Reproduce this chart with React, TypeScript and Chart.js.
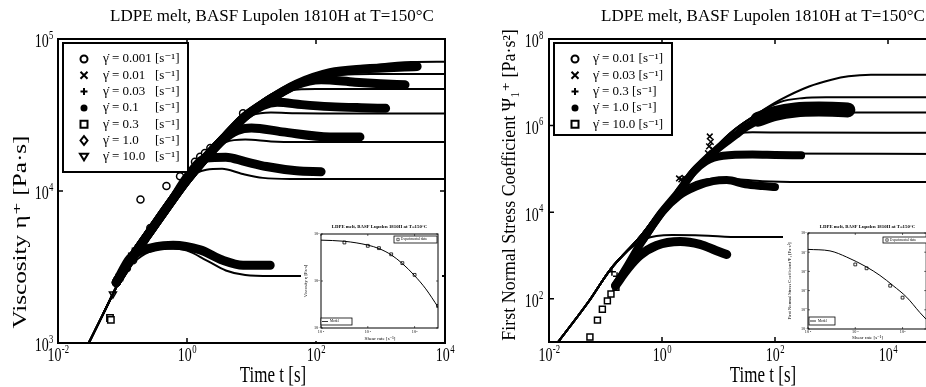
import React, { useEffect, useRef } from "react";
import { Chart, registerables } from "chart.js";

Chart.register(...registerables);

const SERIF = '"Liberation Serif", "Times New Roman", "DejaVu Serif", serif';
const GDOT = "\u03B3\u0307";

type P = [number, number];

// ================= Left panel: viscosity growth eta+ =================
const etaTitle = "LDPE melt, BASF Lupolen 1810H at T=150°C";
const etaXTitle = "Time t [s]";
const etaYTitle = "Viscosity η⁺ [Pa·s]";
const etaXTicks = [0.01, 1, 100, 10000];
const etaXTickExp = ["-2", "0", "2", "4"];
const etaYTicks = [1000, 10000, 100000];
const etaYTickExp = ["3", "4", "5"];
const etaLegendRates = ["0.001", "0.01", "0.03", "0.1", "0.3", "1.0", "10.0"];
const etaLegendMarkers = ["circle", "x", "plus", "dot", "square", "diamond", "triDown"];

// model curves (one per shear rate)
const etaModel0001: P[] = [[0.03, 1000], [0.05, 1550], [0.1, 2800], [0.2, 4700], [0.5, 8500], [1, 12500], [2, 17500], [5, 27000], [10, 35000], [20, 43000], [50, 50500], [100, 56000], [300, 63000], [1000, 68000], [3000, 70500], [10000, 70800]];
const etaModel001: P[] = [[0.03, 1000], [0.05, 1550], [0.1, 2800], [0.2, 4700], [0.5, 8500], [1, 12500], [2, 17500], [5, 27000], [10, 35000], [20, 43000], [50, 50500], [100, 55000], [250, 58000], [700, 58900], [10000, 58900]];
const etaModel003: P[] = [[0.03, 1000], [0.05, 1550], [0.1, 2800], [0.2, 4700], [0.5, 8500], [1, 12500], [2, 17500], [5, 27000], [10, 35000], [20, 42000], [40, 46000], [100, 46800], [10000, 46800]];
const etaModel01: P[] = [[0.03, 1000], [0.05, 1550], [0.1, 2800], [0.2, 4700], [0.5, 8500], [1, 12500], [2, 17500], [5, 27000], [10, 31500], [20, 32800], [50, 32500], [120, 32400], [10000, 32400]];
const etaModel03: P[] = [[0.03, 1000], [0.05, 1550], [0.1, 2800], [0.2, 4700], [0.5, 8500], [1, 12500], [2, 17500], [4, 21000], [8, 21800], [20, 21200], [50, 21000], [10000, 21000]];
const etaModel1: P[] = [[0.03, 1000], [0.05, 1550], [0.1, 2800], [0.2, 4700], [0.5, 8500], [1, 12000], [2, 13800], [3.5, 14000], [7, 13000], [15, 12200], [40, 12000], [10000, 12000]];
const etaModel10: P[] = [[0.03, 1000], [0.05, 1550], [0.1, 2800], [0.15, 3400], [0.25, 3950], [0.5, 4200], [1, 4050], [2, 3500], [4, 3000], [8, 2800], [20, 2760], [10000, 2760]];

// dense measured data (drawn as thick bands)
const etaBand001: P[] = [[0.08, 2500], [0.15, 3800], [0.3, 5800], [0.6, 8800], [1, 11800], [2, 16800], [4, 23000], [8, 31000], [15, 37400], [50, 50500], [165, 60000], [540, 63500], [3700, 66000]];
const etaBand003: P[] = [[0.08, 2500], [0.15, 3800], [0.3, 5800], [0.6, 8800], [1, 11800], [2, 16800], [4, 23000], [8, 31000], [15, 37400], [50, 50000], [120, 54000], [400, 52000], [1000, 50800], [2400, 50000]];
const etaBand01: P[] = [[0.08, 2500], [0.15, 3800], [0.3, 5800], [0.6, 8800], [1, 11800], [2, 16800], [4, 23000], [8, 31000], [15, 36500], [25, 38300], [60, 37000], [165, 35900], [500, 35300], [1200, 35000]];
const etaBand03: P[] = [[0.08, 2500], [0.15, 3800], [0.3, 5800], [0.6, 8800], [1, 11800], [2, 16800], [3.5, 21500], [6, 25000], [10, 26000], [30, 24500], [165, 22700], [480, 22700]];
const etaBand1: P[] = [[0.08, 2500], [0.15, 3800], [0.3, 5800], [0.6, 8800], [1, 12300], [2, 16500], [4, 16700], [8, 15600], [17, 14500], [50, 13600], [120, 13400]];
const etaBand10: P[] = [[0.08, 2500], [0.13, 3600], [0.34, 4300], [0.61, 4400], [1.6, 4100], [3.6, 3500], [7.4, 3250], [19.5, 3250]];

// sparse markers
const etaCircles: P[] = [[0.117, 3100], [0.146, 3500], [0.19, 4100], [0.22, 4750], [0.27, 5700], [0.19, 8800], [0.48, 10800], [0.78, 12500], [1.33, 15600], [1.6, 16800], [1.9, 17800], [2.3, 19200], [7.4, 32500]];
const etaSquares: P[] = [[0.064, 1460], [0.066, 1420], [0.09, 2700]];
const etaTriangles: P[] = [[0.071, 2100], [0.085, 2600]];
const etaDiamonds: P[] = [[0.095, 2800], [0.105, 3000]];
const etaPlus: P[] = [[0.14, 3900], [0.16, 4200]];
const etaCross: P[] = [[0.12, 3300]];

// inset (steady shear viscosity)
const etaInsetXTicks = [0.0001, 0.01, 1];
const etaInsetXExp = ["-4", "-2", "0"];
const etaInsetYTicks = [1000, 10000, 100000];
const etaInsetYExp = ["3", "4", "5"];
const etaInsetModel: P[] = [[0.0001, 74000], [0.001, 70000], [0.01, 58000], [0.03, 49000], [0.1, 36000], [0.3, 23500], [1, 13000], [3, 6800], [10, 2800]];
const etaInsetData: P[] = [[0.001, 66000], [0.01, 56000], [0.03, 50000], [0.1, 37000], [0.3, 24000], [1, 13500], [10, 2950]];

// ================= Right panel: first normal stress coefficient =================
const psiTitle = "LDPE melt, BASF Lupolen 1810H at T=150°C";
const psiXTitle = "Time t [s]";
const psiYTitle = "First Normal Stress Coefficient Ψ₁⁺ [Pa·s²]";
const psiXTicks = [0.01, 1, 100, 10000];
const psiXTickExp = ["-2", "0", "2", "4"];
const psiYTicks = [100, 10000, 1000000, 100000000];
const psiYTickExp = ["2", "4", "6", "8"];
const psiLegendRates = ["0.01", "0.03", "0.3", "1.0", "10.0"];
const psiLegendMarkers = ["circle", "x", "plus", "dot", "square"];

const psiModelA: P[] = [[0.0145, 10], [0.05, 85], [0.12, 460], [0.4, 2600], [1, 12000], [3, 58000], [7, 220000], [16, 660000], [50, 1900000], [123, 3900000], [400, 8000000], [1000, 11500000], [2000, 13800000], [5000, 15000000], [100000, 15000000]];
const psiModelB: P[] = [[0.0145, 10], [0.05, 85], [0.12, 460], [0.4, 2600], [1, 12000], [3, 58000], [7, 220000], [16, 660000], [50, 1900000], [123, 3500000], [300, 4300000], [800, 4500000], [100000, 4500000]];
const psiModelC: P[] = [[0.0145, 10], [0.05, 85], [0.12, 460], [0.4, 2600], [1, 12000], [3, 58000], [7, 220000], [16, 660000], [40, 1500000], [100, 1950000], [300, 2000000], [100000, 2000000]];
const psiModelD: P[] = [[0.0145, 10], [0.05, 85], [0.12, 460], [0.4, 2600], [1, 12000], [3, 58000], [7, 220000], [16, 600000], [40, 700000], [150, 690000], [100000, 680000]];
const psiModelE: P[] = [[0.0145, 10], [0.05, 85], [0.12, 460], [0.4, 2600], [1, 12000], [3, 58000], [6, 160000], [12, 215000], [30, 225000], [100000, 220000]];
const psiModelF: P[] = [[0.0145, 10], [0.05, 85], [0.12, 460], [0.4, 2600], [1, 12000], [2, 30000], [4, 50000], [10, 60000], [20, 58000], [60, 52000], [300, 50000], [100000, 50000]];
const psiModelG: P[] = [[0.0145, 10], [0.05, 85], [0.12, 460], [0.25, 1300], [0.5, 2400], [1.5, 2950], [5, 2900], [24, 2650], [100000, 2700]];

const psiBandMain: P[] = [[0.15, 200], [0.25, 600], [0.45, 2200], [1, 10000], [2, 30000], [3.6, 85000], [9, 270000], [20, 600000], [31, 930000], [62, 1500000], [120, 1900000]];
const psiBandBlob: P[] = [[50, 1400000], [100, 1900000], [230, 2300000], [600, 2400000], [1950, 2300000]];
const psiBand03: P[] = [[2, 30000], [3.6, 85000], [6, 150000], [12, 200000], [40, 215000], [100, 210000], [290, 205000]];
const psiBand1: P[] = [[0.45, 2200], [1, 10000], [2, 24000], [4, 39000], [8, 52000], [14, 55000], [30, 44000], [60, 40000], [100, 38000]];
const psiBand10: P[] = [[0.15, 200], [0.25, 500], [0.41, 1000], [0.8, 1700], [2.1, 2100], [4.7, 1800], [9, 1300], [14, 1050]];

const psiSquares: P[] = [[0.053, 13], [0.072, 32], [0.088, 57], [0.108, 89], [0.125, 129], [0.153, 183]];
const psiCross: P[] = [[2.0, 60000], [2.2, 57000], [2.5, 62000], [2.7, 58000], [6.5, 230000], [6.8, 330000], [7.0, 560000], [7.3, 420000], [8, 280000]];
const psiPlus: P[] = [[0.13, 420], [0.16, 330]];

// inset (steady first normal stress coefficient)
const psiInsetXTicks = [0.0001, 0.01, 1];
const psiInsetXExp = ["-4", "-2", "0"];
const psiInsetYTicks = [1000, 10000, 100000, 1000000, 10000000, 100000000];
const psiInsetYExp = ["3", "4", "5", "6", "7", "8"];
const psiInsetModel: P[] = [[0.0001, 14000000], [0.00085, 11700000], [0.0043, 5600000], [0.03, 1700000], [0.11, 620000], [0.4, 180000], [1.5, 45000], [5.4, 7200], [10, 3200]];
const psiInsetData: P[] = [[0.01, 2300000], [0.03, 1450000], [0.3, 180000], [1, 43000]];

const insetXTitle = "Shear rate [s⁻¹]";
const etaInsetYTitle = "Viscosity η [Pa·s]";
const psiInsetYTitle = "First Normal Stress Coefficient Ψ₁ [Pa·s²]";

// ================= helpers =================
const pts = (a: P[]) => a.map(([x, y]) => ({ x, y }));

function curve(data: P[], width: number) {
  return {
    data: pts(data),
    showLine: true,
    borderColor: "#000",
    backgroundColor: "#000",
    borderWidth: width,
    pointRadius: 0,
    pointHoverRadius: 0,
    cubicInterpolationMode: "monotone",
    borderCapStyle: "round",
    borderJoinStyle: "round",
    clip: 0,
  };
}

function markers(data: P[], style: string, radius: number, extra: any = {}) {
  return {
    data: pts(data),
    showLine: false,
    pointStyle: style,
    pointRadius: radius,
    pointHoverRadius: radius,
    pointBorderWidth: 1.5,
    pointBorderColor: "#000",
    pointBackgroundColor: "#fff",
    clip: 0,
    ...extra,
  };
}

function drawMarker(ctx: CanvasRenderingContext2D, kind: string, x: number, y: number, r: number) {
  ctx.beginPath();
  if (kind === "circle") {
    ctx.arc(x, y, r, 0, Math.PI * 2);
    ctx.stroke();
  } else if (kind === "dot") {
    ctx.arc(x, y, r, 0, Math.PI * 2);
    ctx.fill();
  } else if (kind === "x") {
    ctx.moveTo(x - r, y - r); ctx.lineTo(x + r, y + r);
    ctx.moveTo(x + r, y - r); ctx.lineTo(x - r, y + r);
    ctx.stroke();
  } else if (kind === "plus") {
    ctx.moveTo(x - r, y); ctx.lineTo(x + r, y);
    ctx.moveTo(x, y - r); ctx.lineTo(x, y + r);
    ctx.stroke();
  } else if (kind === "square") {
    ctx.rect(x - r, y - r, 2 * r, 2 * r);
    ctx.stroke();
  } else if (kind === "diamond") {
    ctx.moveTo(x, y - r * 1.25); ctx.lineTo(x + r, y); ctx.lineTo(x, y + r * 1.25); ctx.lineTo(x - r, y);
    ctx.closePath();
    ctx.stroke();
  } else if (kind === "triDown") {
    ctx.moveTo(x - r * 1.15, y - r * 0.85); ctx.lineTo(x + r * 1.15, y - r * 0.85); ctx.lineTo(x, y + r);
    ctx.closePath();
    ctx.stroke();
  } else if (kind === "line") {
    ctx.moveTo(x - r * 2, y); ctx.lineTo(x + r * 2, y);
    ctx.stroke();
  }
}

function drawPow(ctx: CanvasRenderingContext2D, base: string, exp: string, x: number, y: number, size: number, stretch: number, align: string) {
  ctx.save();
  ctx.translate(x, y);
  ctx.scale(1, stretch);
  ctx.textAlign = "left";
  ctx.textBaseline = "alphabetic";
  ctx.font = `${size}px ${SERIF}`;
  const bw = ctx.measureText(base).width;
  const es = size * 0.62;
  ctx.font = `${es}px ${SERIF}`;
  const ew = ctx.measureText(exp).width;
  const tw = bw + ew;
  const x0 = align === "center" ? -tw / 2 : align === "right" ? -tw : 0;
  const by = size * 0.34;
  ctx.font = `${size}px ${SERIF}`;
  ctx.fillText(base, x0, by);
  ctx.font = `${es}px ${SERIF}`;
  ctx.fillText(exp, x0 + bw + size * 0.03, by - size * 0.45);
  ctx.restore();
}

type LegendItem = { marker: string; text: string; unit?: string };
type Legend = {
  box: number[]; frame: number; markerX: number; markerR: number; markerW: number;
  textX: number; unitX?: number; y0: number; dy: number; size: number; items: LegendItem[];
};
type Decor = {
  title: { text: string; x: number; y: number; size: number; bold?: boolean };
  xTitle: { text: string; x: number; y: number; size: number; stretch: number };
  yTitle: { text: string; x: number; y: number; size: number; stretch: number };
  xTicks: number[]; xExp: string[]; yTicks: number[]; yExp: string[];
  tickSize: number; tickStretch: number; xLabelY: number; yLabelGap: number; yLabelDy: number;
  tickLen: number; tickW: number; frame: number; legends: Legend[];
};

function decorPlugin(d: Decor) {
  return {
    id: "decor",
    beforeDraw(chart: any) {
      const ctx = chart.ctx;
      ctx.save();
      ctx.fillStyle = "#fff";
      ctx.fillRect(0, 0, chart.width, chart.height);
      ctx.restore();
    },
    afterDraw(chart: any) {
      const ctx: CanvasRenderingContext2D = chart.ctx;
      const a = chart.chartArea;
      const xs = chart.scales.x;
      const ys = chart.scales.y;
      ctx.save();
      ctx.strokeStyle = "#000";
      ctx.fillStyle = "#000";
      // ticks on all four sides
      ctx.lineWidth = d.tickW;
      ctx.beginPath();
      d.xTicks.forEach((v) => {
        const px = xs.getPixelForValue(v);
        ctx.moveTo(px, a.bottom); ctx.lineTo(px, a.bottom - d.tickLen);
        ctx.moveTo(px, a.top); ctx.lineTo(px, a.top + d.tickLen);
      });
      d.yTicks.forEach((v) => {
        const py = ys.getPixelForValue(v);
        ctx.moveTo(a.left, py); ctx.lineTo(a.left + d.tickLen, py);
        ctx.moveTo(a.right, py); ctx.lineTo(a.right - d.tickLen, py);
      });
      ctx.stroke();
      // frame
      ctx.lineWidth = d.frame;
      ctx.strokeRect(a.left, a.top, a.right - a.left, a.bottom - a.top);
      // tick labels
      d.xTicks.forEach((v, i) => drawPow(ctx, "10", d.xExp[i], xs.getPixelForValue(v), d.xLabelY, d.tickSize, d.tickStretch, "center"));
      d.yTicks.forEach((v, i) => drawPow(ctx, "10", d.yExp[i], a.left - d.yLabelGap, ys.getPixelForValue(v) + d.yLabelDy, d.tickSize, d.tickStretch, "right"));
      // title
      const t = d.title;
      ctx.font = `${t.bold ? "bold " : ""}${t.size}px ${SERIF}`;
      ctx.textAlign = "center";
      ctx.textBaseline = "alphabetic";
      ctx.fillText(t.text, t.x, t.y);
      // x title
      const xt = d.xTitle;
      ctx.save();
      ctx.translate(xt.x, xt.y);
      ctx.scale(1, xt.stretch);
      ctx.font = `${xt.size}px ${SERIF}`;
      ctx.textAlign = "center";
      ctx.textBaseline = "alphabetic";
      ctx.fillText(xt.text, 0, 0);
      ctx.restore();
      // y title
      const yt = d.yTitle;
      ctx.save();
      ctx.translate(yt.x, yt.y);
      ctx.rotate(-Math.PI / 2);
      ctx.scale(yt.stretch, 1);
      ctx.font = `${yt.size}px ${SERIF}`;
      ctx.textAlign = "center";
      ctx.textBaseline = "middle";
      ctx.fillText(yt.text, 0, 0);
      ctx.restore();
      // legends
      d.legends.forEach((lg) => {
        const [x1, y1, x2, y2] = lg.box;
        ctx.fillStyle = "#fff";
        ctx.fillRect(x1, y1, x2 - x1, y2 - y1);
        ctx.lineWidth = lg.frame;
        ctx.strokeRect(x1, y1, x2 - x1, y2 - y1);
        ctx.fillStyle = "#000";
        lg.items.forEach((it, i) => {
          const yy = lg.y0 + i * lg.dy;
          ctx.lineWidth = lg.markerW;
          drawMarker(ctx, it.marker, lg.markerX, yy, lg.markerR);
          ctx.font = `${lg.size}px ${SERIF}`;
          ctx.textAlign = "left";
          ctx.textBaseline = "middle";
          ctx.fillText(it.text, lg.textX, yy);
          if (it.unit && lg.unitX !== undefined) ctx.fillText(it.unit, lg.unitX, yy);
        });
      });
      ctx.restore();
    },
  };
}

function makeConfig(o: {
  xMin: number; xMax: number; yMin: number; yMax: number;
  padTop: number; padRight: number; yW: number; xH: number;
  datasets: any[]; decor: Decor;
}): any {
  return {
    type: "scatter",
    data: { datasets: o.datasets },
    options: {
      responsive: false,
      animation: false,
      events: [],
      layout: { padding: { top: o.padTop, right: o.padRight, bottom: 0, left: 0 } },
      plugins: { legend: { display: false }, tooltip: { enabled: false }, title: { display: false } },
      scales: {
        x: {
          type: "logarithmic", min: o.xMin, max: o.xMax,
          ticks: { display: false }, grid: { display: false }, border: { display: false },
          afterFit: (s: any) => { s.height = o.xH; s.paddingLeft = 0; s.paddingRight = 0; },
        },
        y: {
          type: "logarithmic", min: o.yMin, max: o.yMax,
          ticks: { display: false }, grid: { display: false }, border: { display: false },
          afterFit: (s: any) => { s.width = o.yW; s.paddingTop = 0; s.paddingBottom = 0; },
        },
      },
    },
    plugins: [decorPlugin(o.decor)],
  };
}

// ================= chart builders =================
function makeEtaMain() {
  const datasets = [
    curve(etaBand001, 9), curve(etaBand003, 9), curve(etaBand01, 9),
    curve(etaBand03, 9), curve(etaBand1, 9), curve(etaBand10, 9),
    curve(etaModel0001, 2), curve(etaModel001, 2), curve(etaModel003, 2), curve(etaModel01, 2),
    curve(etaModel03, 2), curve(etaModel1, 2), curve(etaModel10, 2),
    markers(etaCircles, "circle", 3.5),
    markers(etaSquares, "rect", 4.5),
    markers(etaTriangles, "triangle", 4, { rotation: 180 }),
    markers(etaDiamonds, "rectRot", 4),
    markers(etaPlus, "cross", 4),
    markers(etaCross, "crossRot", 4),
  ];
  const decor: Decor = {
    title: { text: etaTitle, x: 272, y: 21, size: 17 },
    xTitle: { text: etaXTitle, x: 273, y: 382, size: 17, stretch: 1.3 },
    yTitle: { text: etaYTitle, x: 21, y: 232, size: 18, stretch: 1.4 },
    xTicks: etaXTicks, xExp: etaXTickExp, yTicks: etaYTicks, yExp: etaYTickExp,
    tickSize: 14, tickStretch: 1.35, xLabelY: 355, yLabelGap: 5, yLabelDy: 2,
    tickLen: 5, tickW: 1.5, frame: 2,
    legends: [{
      box: [63, 43, 188, 172], frame: 2, markerX: 84, markerR: 3.5, markerW: 2,
      textX: 103, unitX: 155, y0: 59, dy: 16.3, size: 13,
      items: etaLegendRates.map((r, i) => ({ marker: etaLegendMarkers[i], text: `${GDOT} = ${r}`, unit: "[s⁻¹]" })),
    }],
  };
  return makeConfig({ xMin: 0.01, xMax: 10000, yMin: 1000, yMax: 100000, padTop: 39, padRight: 18, yW: 58, xH: 44, datasets, decor });
}

function makePsiMain() {
  const datasets = [
    curve(psiBandMain, 8), curve(psiBandBlob, 15), curve(psiBand03, 8), curve(psiBand1, 8), curve(psiBand10, 9),
    curve(psiModelA, 2), curve(psiModelB, 2), curve(psiModelC, 2), curve(psiModelD, 2),
    curve(psiModelE, 2), curve(psiModelF, 2), curve(psiModelG, 2),
    markers(psiSquares, "rect", 4.2),
    markers(psiCross, "crossRot", 4),
    markers(psiPlus, "cross", 4),
  ];
  const decor: Decor = {
    title: { text: psiTitle, x: 300, y: 21, size: 17 },
    xTitle: { text: psiXTitle, x: 300, y: 382, size: 17, stretch: 1.3 },
    yTitle: { text: psiYTitle, x: 47, y: 185, size: 18, stretch: 1.0 },
    xTicks: psiXTicks, xExp: psiXTickExp, yTicks: psiYTicks, yExp: psiYTickExp,
    tickSize: 14, tickStretch: 1.35, xLabelY: 355, yLabelGap: 6, yLabelDy: 2,
    tickLen: 5, tickW: 1.5, frame: 2,
    legends: [{
      box: [91, 43, 209, 135], frame: 2, markerX: 112, markerR: 3.5, markerW: 2,
      textX: 130, y0: 59, dy: 16.3, size: 13,
      items: psiLegendRates.map((r, i) => ({ marker: psiLegendMarkers[i], text: `${GDOT} = ${r} [s⁻¹]` })),
    }],
  };
  return makeConfig({ xMin: 0.01, xMax: 100000, yMin: 10, yMax: 100000000, padTop: 39, padRight: 18.5, yW: 86, xH: 45, datasets, decor });
}

function makeEtaInset() {
  const datasets = [
    curve(etaInsetModel, 1),
    markers(etaInsetData, "rect", 2, { pointBorderWidth: 0.8 }),
  ];
  const decor: Decor = {
    title: { text: etaTitle, x: 78.5, y: 7, size: 4.8, bold: true },
    xTitle: { text: insetXTitle, x: 79, y: 119, size: 5, stretch: 1 },
    yTitle: { text: etaInsetYTitle, x: 5, y: 60, size: 4.6, stretch: 1 },
    xTicks: etaInsetXTicks, xExp: etaInsetXExp, yTicks: etaInsetYTicks, yExp: etaInsetYExp,
    tickSize: 4.2, tickStretch: 1, xLabelY: 111, yLabelGap: 1.5, yLabelDy: 0,
    tickLen: 2, tickW: 0.6, frame: 1,
    legends: [
      { box: [93, 15, 136, 22], frame: 0.8, markerX: 97, markerR: 1.2, markerW: 0.6, textX: 100, y0: 18.5, dy: 0, size: 3.5, items: [{ marker: "square", text: "Experimental data" }] },
      { box: [20, 97, 51, 104], frame: 0.8, markerX: 24, markerR: 1.5, markerW: 0.8, textX: 29, y0: 100.5, dy: 0, size: 3.5, items: [{ marker: "line", text: "Model" }] },
    ],
  };
  return makeConfig({ xMin: 0.0001, xMax: 10, yMin: 1000, yMax: 100000, padTop: 13, padRight: 4, yW: 20, xH: 13, datasets, decor });
}

function makePsiInset() {
  const datasets = [
    curve(psiInsetModel, 1),
    markers(psiInsetData, "rect", 2, { pointBorderWidth: 0.8 }),
  ];
  const decor: Decor = {
    title: { text: psiTitle, x: 84.5, y: 7, size: 4.8, bold: true },
    xTitle: { text: insetXTitle, x: 84.5, y: 118, size: 5, stretch: 1 },
    yTitle: { text: psiInsetYTitle, x: 7, y: 60, size: 4.6, stretch: 1 },
    xTicks: psiInsetXTicks, xExp: psiInsetXExp, yTicks: psiInsetYTicks, yExp: psiInsetYExp,
    tickSize: 4.2, tickStretch: 1, xLabelY: 111, yLabelGap: 1.5, yLabelDy: 0,
    tickLen: 2, tickW: 0.6, frame: 1,
    legends: [
      { box: [100, 16, 144, 22], frame: 0.8, markerX: 104, markerR: 1.2, markerW: 0.6, textX: 107, y0: 19, dy: 0, size: 3.5, items: [{ marker: "square", text: "Experimental data" }] },
      { box: [26, 96, 52, 104], frame: 0.8, markerX: 30, markerR: 1.5, markerW: 0.8, textX: 35, y0: 100, dy: 0, size: 3.5, items: [{ marker: "line", text: "Model" }] },
    ],
  };
  return makeConfig({ xMin: 0.0001, xMax: 10, yMin: 1000, yMax: 100000000, padTop: 12, padRight: 2, yW: 25, xH: 12, datasets, decor });
}

function ChartCanvas(props: { left: number; top: number; width: number; height: number; make: () => any }) {
  const ref = useRef<HTMLCanvasElement | null>(null);
  useEffect(() => {
    if (!ref.current) return;
    const chart = new Chart(ref.current, props.make());
    return () => chart.destroy();
  }, []);
  return (
    <canvas
      ref={ref}
      width={props.width}
      height={props.height}
      style={{ position: "absolute", left: props.left, top: props.top, width: props.width, height: props.height, display: "block" }}
    />
  );
}

export default function App() {
  return (
    <div style={{ position: "fixed", left: 0, top: 0, width: 926, height: 387, overflow: "hidden", background: "#fff" }}>
      <ChartCanvas left={0} top={0} width={463} height={387} make={makeEtaMain} />
      <ChartCanvas left={463} top={0} width={500} height={387} make={makePsiMain} />
      <ChartCanvas left={301} top={221} width={141} height={120} make={makeEtaInset} />
      <ChartCanvas left={783} top={221} width={146} height={120} make={makePsiInset} />
    </div>
  );
}
